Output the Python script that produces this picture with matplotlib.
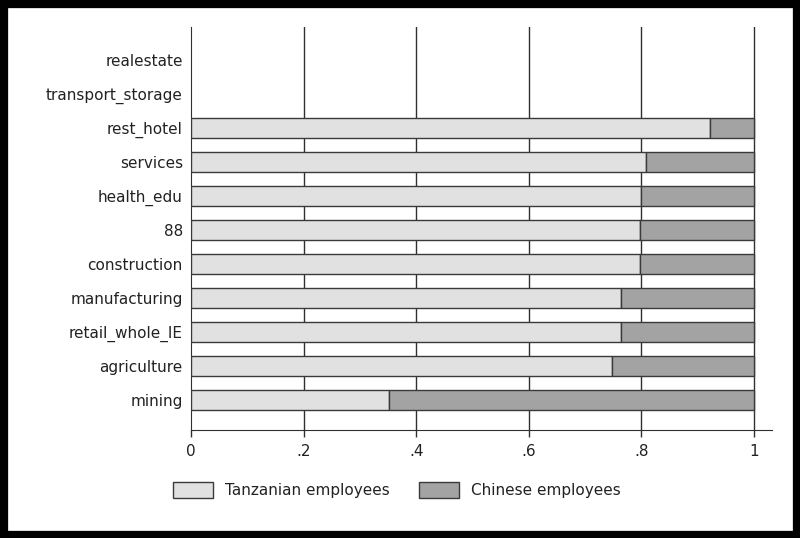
import matplotlib
matplotlib.use("Agg")
from matplotlib import pyplot as plt
from matplotlib.patches import Rectangle, Patch

# categories from bottom to top
sectors = ["mining", "agriculture", "retail_whole_IE", "manufacturing", "construction",
           "88", "health_edu", "services", "rest_hotel", "transport_storage", "realestate"]
tanzanian = [0.351, 0.748, 0.764, 0.764, 0.798, 0.798, 0.800, 0.808, 0.922, 0, 0]
chinese = [0.649, 0.252, 0.236, 0.236, 0.202, 0.202, 0.200, 0.192, 0.078, 0, 0]
xticks = [0, 0.2, 0.4, 0.6, 0.8, 1.0]
xlabels = ["0", ".2", ".4", ".6", ".8", "1"]

plt.rcParams["font.family"] = ["DejaVu Sans"]
fs = 11

fig = plt.figure(figsize=(8, 5.38), dpi=100)
ax = fig.add_axes([0.239, 0.2007, 0.726, 0.749])

pos = list(range(len(sectors)))
edge = "#3a3a3a"
for i in pos:
    if tanzanian[i] + chinese[i] == 0:
        continue
    ax.barh(i, tanzanian[i], height=0.6, color="#e1e1e1", edgecolor=edge, linewidth=1, zorder=3)
    ax.barh(i, chinese[i], left=tanzanian[i], height=0.6, color="#a3a3a3",
            edgecolor=edge, linewidth=1, zorder=3)

for x in xticks[1:]:
    ax.axvline(x, color="#303030", linewidth=1, zorder=1)

ax.set_xlim(0, 1.032)
ax.set_ylim(-0.88, 10.97)
ax.set_yticks(pos)
ax.set_yticklabels(sectors, fontsize=fs, color="#222222")
ax.tick_params(axis="y", length=0, pad=6)
ax.set_xticks(xticks)
ax.set_xticklabels(xlabels, fontsize=fs, color="#222222")
ax.tick_params(axis="x", length=5, width=1, color="#303030", pad=5)
ax.spines["top"].set_visible(False)
ax.spines["right"].set_visible(False)
ax.spines["left"].set_color("#303030")
ax.spines["bottom"].set_color("#303030")

handles = [Patch(facecolor="#e1e1e1", edgecolor=edge, label="Tanzanian employees"),
           Patch(facecolor="#a3a3a3", edgecolor=edge, label="Chinese employees")]
leg = fig.legend(handles=handles, loc="center", bbox_to_anchor=(0.496, 1 - 490 / 538), ncol=2,
                 frameon=False, fontsize=fs, handlelength=2.6, handleheight=1.2,
                 columnspacing=1.9, handletextpad=0.8)
for t in leg.get_texts():
    t.set_color("#222222")

fig.add_artist(Rectangle((0, 0), 1, 1, transform=fig.transFigure, fill=False,
                         edgecolor="black", linewidth=11, clip_on=False))

fig.savefig("out.png", dpi=100)
